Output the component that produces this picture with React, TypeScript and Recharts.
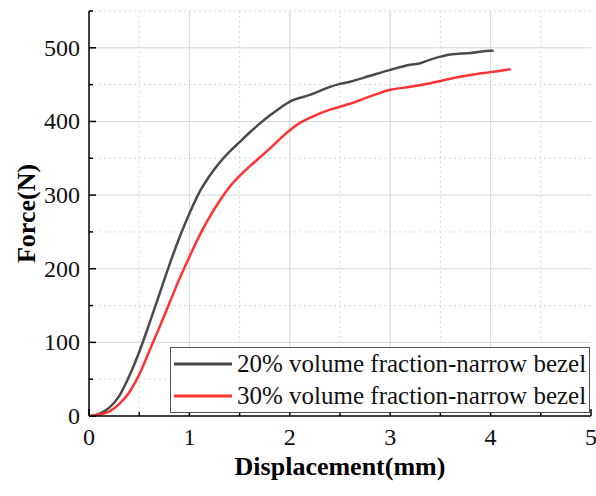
import React from 'react';
import { LineChart, Line, XAxis, YAxis, CartesianGrid, Label } from 'recharts';

const SERIES_NAMES = ['20% volume fraction-narrow bezel', '30% volume fraction-narrow bezel'];
const COLORS = ['#4a4a4a', '#ff3333'];

// 20% volume fraction curve
const DISP_20 = [0, 0.1, 0.2, 0.3, 0.4, 0.5, 0.6, 0.7, 0.8, 0.9, 1.0, 1.1, 1.2, 1.3, 1.4, 1.5, 1.6, 1.7, 1.8, 1.9, 2.0, 2.2, 2.4, 2.5, 2.6, 2.8, 3.0, 3.2, 3.3, 3.4, 3.5, 3.6, 3.8, 4.0, 4.03];
const FORCE_20 = [0, 3, 11, 27, 54, 87, 125, 165, 205, 242, 275, 304, 326, 344, 359, 372, 385, 397, 408, 418, 427, 436, 447, 451, 454, 462, 470, 477, 479, 484, 488, 491, 493, 496, 496];

// 30% volume fraction curve
const DISP_30 = [0, 0.1, 0.2, 0.3, 0.4, 0.5, 0.6, 0.7, 0.8, 0.9, 1.0, 1.1, 1.2, 1.3, 1.4, 1.5, 1.6, 1.7, 1.8, 1.9, 2.0, 2.1, 2.2, 2.4, 2.5, 2.6, 2.8, 3.0, 3.2, 3.4, 3.5, 3.6, 3.8, 4.0, 4.1, 4.2];
const FORCE_30 = [0, 2, 6, 16, 32, 56, 88, 120, 153, 186, 216, 245, 270, 292, 311, 326, 339, 351, 363, 376, 388, 398, 405, 416, 420, 424, 434, 443, 447, 452, 455, 458, 463, 467, 469, 471];

const X_TICKS = [0, 0.5, 1, 1.5, 2, 2.5, 3, 3.5, 4, 4.5, 5];
const Y_TICKS = [0, 50, 100, 150, 200, 250, 300, 350, 400, 450, 500, 550];
const X_MAJOR_GRID = [1, 2, 3, 4];
const X_MINOR_GRID = [0.5, 1.5, 2.5, 3.5, 4.5];
const Y_MAJOR_GRID = [100, 200, 300, 400, 500];
const Y_MINOR_GRID = [50, 150, 250, 350, 450, 550];

const FONT = 'Liberation Serif, Tinos, DejaVu Serif, serif';

const data20 = DISP_20.map((x, i) => ({ x, y: FORCE_20[i] }));
const data30 = DISP_30.map((x, i) => ({ x, y: FORCE_30[i] }));

const XTick = (props: any) => {
  const { x, y, payload } = props;
  const v = payload.value;
  const major = Number.isInteger(v);
  return (
    <g>
      <line x1={x} y1={y} x2={x} y2={y - (major ? 7 : 4)} stroke="#000" strokeWidth={1.5} />
      {major && (
        <text x={x} y={y + 29} textAnchor="middle" fontSize={24} fontFamily={FONT} fill="#111">
          {v}
        </text>
      )}
    </g>
  );
};

const YTick = (props: any) => {
  const { x, y, payload } = props;
  const v = payload.value;
  const major = v % 100 === 0;
  return (
    <g>
      <line x1={x} y1={y} x2={x + (major ? 7 : 4)} y2={y} stroke="#000" strokeWidth={1.5} />
      {major && (
        <text x={x - 9} y={y + 8} textAnchor="end" fontSize={24} fontFamily={FONT} fill="#111">
          {v}
        </text>
      )}
    </g>
  );
};

const YTitle = (props: any) => {
  const { viewBox } = props;
  const cx = viewBox.x + 26;
  const cy = viewBox.y + viewBox.height / 2;
  return (
    <text
      x={cx}
      y={cy}
      transform={`rotate(-90, ${cx}, ${cy})`}
      textAnchor="middle"
      dominantBaseline="central"
      fontSize={26}
      fontWeight="bold"
      fontFamily={FONT}
      fill="#000"
    >
      Force(N)
    </text>
  );
};

const App: React.FC = () => {
  return (
    <div style={{ position: 'absolute', left: 0, top: 0, width: 596, height: 496, background: '#fff' }}>
      <LineChart width={596} height={496} margin={{ top: 11, right: 5, left: 0, bottom: 0 }}>
        {/* minor dotted grid */}
        <CartesianGrid
          horizontalValues={Y_MINOR_GRID}
          verticalValues={X_MINOR_GRID}
          stroke="#d8d8d8"
          strokeDasharray="2 3"
        />
        {/* major grid */}
        <CartesianGrid horizontalValues={Y_MAJOR_GRID} verticalValues={X_MAJOR_GRID} stroke="#d6d6d6" />
        <XAxis
          type="number"
          dataKey="x"
          domain={[0, 5]}
          ticks={X_TICKS}
          interval={0}
          height={80}
          tickSize={0}
          tickMargin={0}
          tickLine={false}
          axisLine={{ stroke: '#000', strokeWidth: 1.5 }}
          tick={<XTick />}
          allowDuplicatedCategory={false}
        >
          <Label
            value="Displacement(mm)"
            position="insideBottom"
            offset={21}
            fontSize={26}
            fontWeight="bold"
            fontFamily={FONT}
            fill="#000"
          />
        </XAxis>
        <YAxis
          type="number"
          dataKey="y"
          domain={[0, 550]}
          ticks={Y_TICKS}
          interval={0}
          width={89}
          tickSize={0}
          tickMargin={0}
          tickLine={false}
          axisLine={{ stroke: '#000', strokeWidth: 1.5 }}
          tick={<YTick />}
        >
          <Label content={<YTitle />} />
        </YAxis>
        <Line
          data={data20}
          dataKey="y"
          name={SERIES_NAMES[0]}
          type="monotone"
          stroke={COLORS[0]}
          strokeWidth={2.5}
          dot={false}
          isAnimationActive={false}
        />
        <Line
          data={data30}
          dataKey="y"
          name={SERIES_NAMES[1]}
          type="monotone"
          stroke={COLORS[1]}
          strokeWidth={2.5}
          dot={false}
          isAnimationActive={false}
        />
      </LineChart>
      <div
        style={{
          position: 'absolute',
          left: 170,
          top: 347,
          width: 420,
          height: 66,
          border: '1px solid #555',
          background: '#fff',
          boxSizing: 'border-box',
          fontFamily: FONT,
          fontSize: 25,
          color: '#111',
        }}
      >
        {SERIES_NAMES.map((name, i) => (
          <div key={name} style={{ display: 'flex', alignItems: 'center', height: 32, whiteSpace: 'nowrap' }}>
            <svg width={66} height={10} style={{ flex: 'none' }}>
              <line x1={3} y1={5} x2={61} y2={5} stroke={COLORS[i]} strokeWidth={3} />
            </svg>
            <span>{name}</span>
          </div>
        ))}
      </div>
    </div>
  );
};

export default App;
